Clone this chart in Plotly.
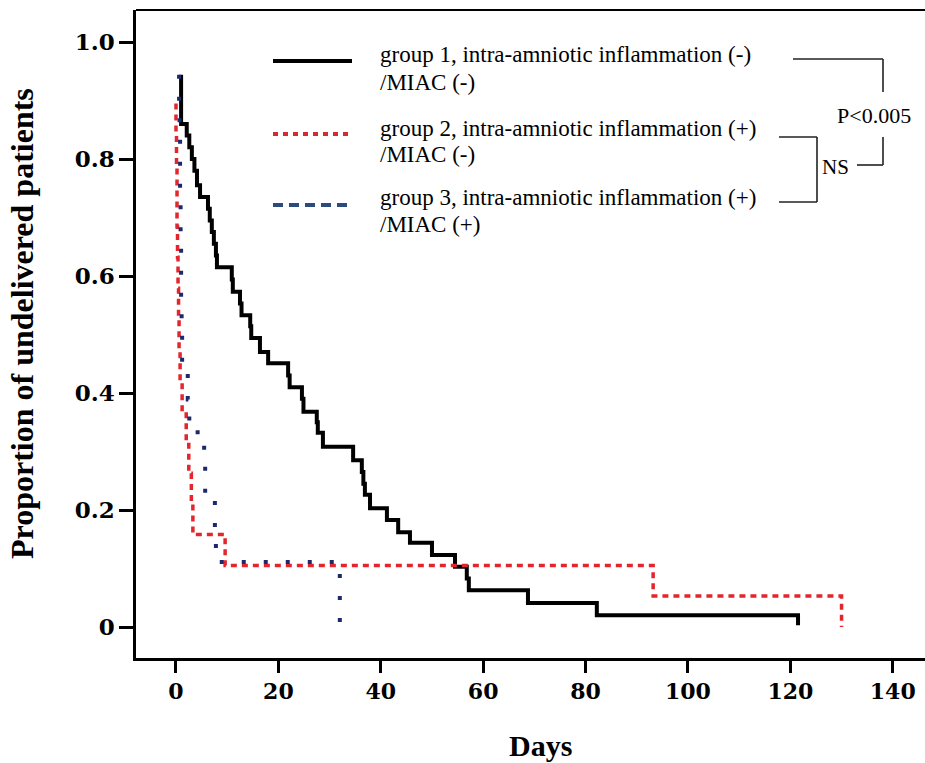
import plotly.graph_objects as go

# ---------------- data ----------------
g1_days = [1.0, 1.0, 2.1, 2.6, 3.1, 3.6, 4.1, 4.7, 6.25, 6.6, 7.0, 7.4, 7.8, 8.0,
           10.9, 11.1, 12.5, 12.8, 14.5, 14.7, 16.4, 18.0, 21.9, 22.2, 24.6, 24.9,
           27.5, 27.7, 28.7, 34.6, 36.3, 36.6, 36.9, 37.9, 41.2, 43.4, 45.7, 50.0,
           54.5, 56.8, 57.2, 68.75, 82.2, 121.5]
g1_surv = [0.944, 0.86, 0.84, 0.82, 0.80, 0.78, 0.755, 0.735, 0.715, 0.695, 0.675,
           0.655, 0.635, 0.615, 0.594, 0.573, 0.553, 0.533, 0.514, 0.494, 0.47,
           0.451, 0.43, 0.41, 0.39, 0.368, 0.35, 0.332, 0.308, 0.285, 0.265, 0.245,
           0.226, 0.203, 0.183, 0.162, 0.144, 0.123, 0.103, 0.083, 0.063, 0.041,
           0.02, 0.003]

g2_days = [0.0, 0.0, 0.1, 0.2, 0.2, 0.3, 0.4, 0.5, 0.6, 0.8, 1.2, 2.0, 2.5, 3.0,
           3.3, 9.6, 93.2, 130.0]
g2_surv = [0.895, 0.842, 0.789, 0.737, 0.684, 0.632, 0.579, 0.526, 0.474, 0.421,
           0.368, 0.316, 0.263, 0.211, 0.158, 0.105, 0.053, 0.0]

g3_days = [0.6, 0.6, 0.7, 0.8, 0.8, 0.9, 1.0, 1.0, 1.1, 1.2, 2.3, 2.6, 5.5, 5.7,
           7.6, 7.8, 32.0]
g3_surv = [0.944, 0.889, 0.833, 0.778, 0.722, 0.667, 0.611, 0.556, 0.5, 0.444,
           0.389, 0.333, 0.278, 0.222, 0.167, 0.111, 0.0]

x_ticks = [0, 20, 40, 60, 80, 100, 120, 140]
x_tick_labels = ["0", "20", "40", "60", "80", "100", "120", "140"]
y_ticks = [0, 0.2, 0.4, 0.6, 0.8, 1.0]
y_tick_labels = ["0", "0.2", "0.4", "0.6", "0.8", "1.0"]

legend_line1 = ["group 1, intra-amniotic inflammation (-)",
                "group 2, intra-amniotic inflammation (+)",
                "group 3, intra-amniotic inflammation (+)"]
legend_line2 = ["/MIAC (-)", "/MIAC (-)", "/MIAC (+)"]
x_title = "Days"
y_title = "Proportion of undelivered patients"
p_label = "P&lt;0.005"
ns_label = "NS"

# ---------------- styling / layout ----------------
W, H = 925, 763
L, R, T, B = 136, 0, 10, 105
PW, PH = W - L - R, H - T - B

def px(x):
    return (x - L) / PW

def py(y):
    return (T + PH - y) / PH

BLACK = "#000000"
RED = "#e3262d"
BLUE = "#1c2a6b"
LEG_RED = "#d42a30"
LEG_BLUE = "#2e4a7e"
SERIF = "Liberation Serif"
XTICKFONT = dict(family="DejaVu Serif", size=22, color="black", weight="bold")
YTICKFONT = dict(family="DejaVu Serif", size=23, color="black", weight="bold")

fig = go.Figure()
fig.add_trace(go.Scatter(x=g1_days, y=g1_surv, mode="lines", line_shape="hv",
                         line=dict(color=BLACK, width=4), hoverinfo="skip"))
fig.add_trace(go.Scatter(x=g2_days, y=g2_surv, mode="lines", line_shape="hv",
                         line=dict(color=RED, width=3.5, dash="6px,5px"), hoverinfo="skip"))
fig.add_trace(go.Scatter(x=g3_days, y=g3_surv, mode="lines", line_shape="hv",
                         line=dict(color=BLUE, width=4, dash="4px,18px"), hoverinfo="skip"))

shapes = []
# top border
shapes.append(dict(type="line", xref="paper", yref="paper", x0=0, x1=1, y0=1, y1=1,
                   line=dict(color="black", width=2)))
# legend samples
leg_y = [61, 134, 205]
leg_styles = [dict(color=BLACK, width=4),
              dict(color=LEG_RED, width=4, dash="5px,5px"),
              dict(color=LEG_BLUE, width=4, dash="10px,6px")]
for yy, st in zip(leg_y, leg_styles):
    shapes.append(dict(type="line", xref="paper", yref="paper",
                       x0=px(273), x1=px(352), y0=py(yy), y1=py(yy), line=st))
# brackets
br = dict(color="#222222", width=1.6)
seglist = [((793, 59), (883, 59)), ((883, 59), (883, 92)),
           ((883, 137), (883, 165)), ((857, 165), (883, 165)),
           ((779, 137), (817, 137)), ((817, 137), (817, 202)), ((779, 202), (817, 202))]
for (a, b) in seglist:
    shapes.append(dict(type="line", xref="paper", yref="paper",
                       x0=px(a[0]), y0=py(a[1]), x1=px(b[0]), y1=py(b[1]), line=br))

annotations = []
line1_y = [55, 128, 198]
line2_y = [83, 154, 224]
for y1, y2, t1, t2 in zip(line1_y, line2_y, legend_line1, legend_line2):
    for yy, txt in ((y1, t1), (y2, t2)):
        annotations.append(dict(xref="paper", yref="paper", x=px(378), y=py(yy),
                                xanchor="left", yanchor="middle", align="left",
                                text=txt, showarrow=False,
                                font=dict(family=SERIF, size=23, color="black")))
annotations.append(dict(xref="paper", yref="paper", x=px(874), y=py(116),
                        xanchor="center", yanchor="middle", text=p_label, showarrow=False,
                        font=dict(family=SERIF, size=22, color="black")))
annotations.append(dict(xref="paper", yref="paper", x=px(835), y=py(167),
                        xanchor="center", yanchor="middle", text=ns_label, showarrow=False,
                        font=dict(family=SERIF, size=21, color="black")))
annotations.append(dict(xref="paper", yref="paper", x=px(540), y=py(745),
                        xanchor="center", yanchor="middle", text=x_title, showarrow=False,
                        font=dict(family=SERIF, size=30, color="black", weight="bold")))
annotations.append(dict(xref="paper", yref="paper", x=px(22), y=py(324),
                        xanchor="center", yanchor="middle", text=y_title, showarrow=False,
                        textangle=-90,
                        font=dict(family=SERIF, size=32, color="black", weight="bold")))

fig.update_layout(
    width=W, height=H,
    margin=dict(l=L, r=R, t=T, b=B, pad=0),
    plot_bgcolor="white", paper_bgcolor="white",
    showlegend=False,
    shapes=shapes, annotations=annotations,
    xaxis=dict(range=[-7.81, 146.3], tickvals=x_ticks, ticktext=x_tick_labels,
               showline=True, linecolor="black", linewidth=2.5,
               ticks="outside", ticklen=12, tickwidth=2.5, tickcolor="black",
               showgrid=False, zeroline=False, tickfont=XTICKFONT, fixedrange=True),
    yaxis=dict(range=[-0.053, 1.0547], tickvals=y_ticks, ticktext=y_tick_labels,
               showline=True, linecolor="black", linewidth=2.5,
               ticks="outside", ticklen=14, tickwidth=2.5, tickcolor="black",
               showgrid=False, zeroline=False, tickfont=YTICKFONT, fixedrange=True),
)

fig.write_html(
    "out.html",
    config={"displayModeBar": False},
    post_script="document.body.style.margin='0';document.body.style.overflow='hidden';",
)
